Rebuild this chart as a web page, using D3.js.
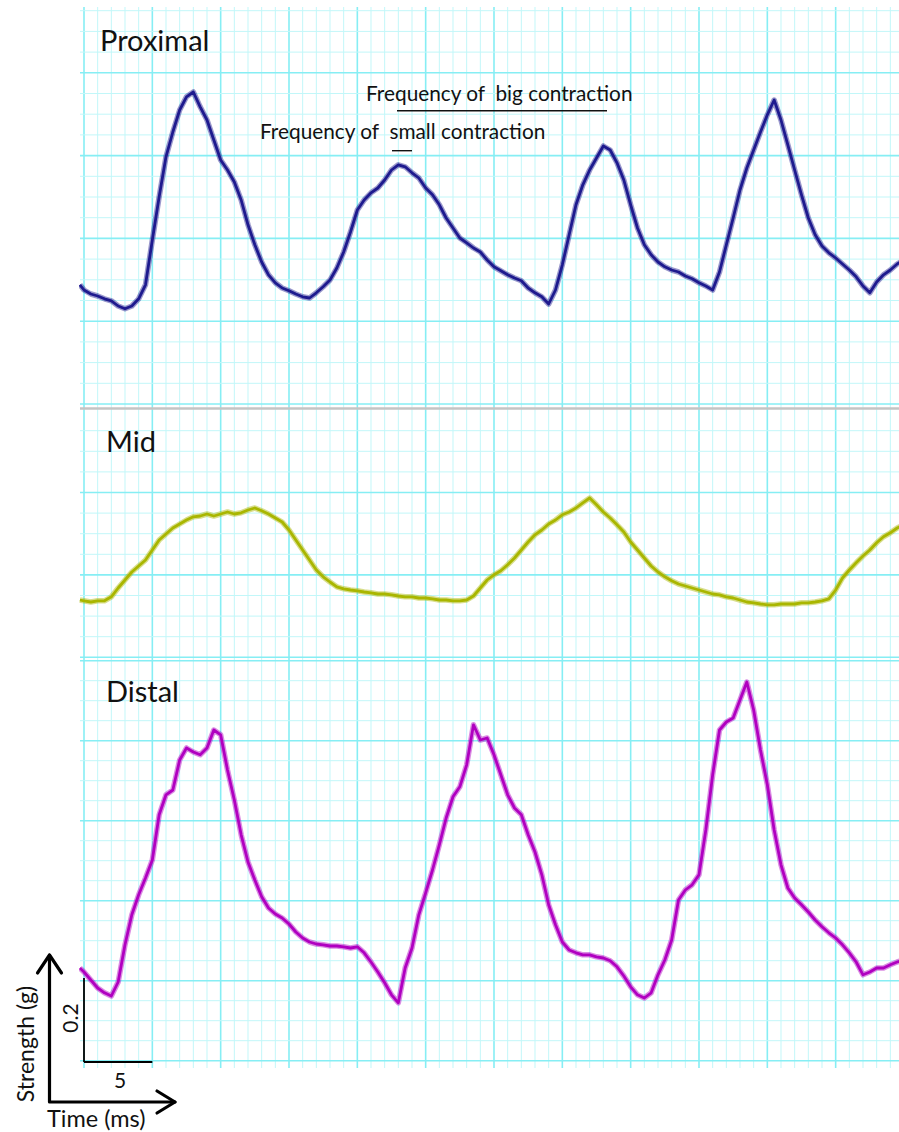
<!DOCTYPE html>
<html><head><meta charset="utf-8">
<script src="https://cdn.jsdelivr.net/npm/d3@7"></script>
<style>body{margin:0;background:#fff}svg{display:block}text{font-family:Lato,"Open Sans",sans-serif}</style>
</head><body><svg id="c" width="899" height="1132"></svg>
<script>
// time axis in ms (sampling of the traces)
const times = [-0.3].concat(d3.range(0, 60.001, 0.5));
// strength (g), relative to each panel baseline
const proximal = [0.308,
 0.295,0.285,0.280,0.273,0.268,0.255,0.248,0.255,0.273,0.308,
 0.420,0.528,0.628,0.690,0.745,0.778,0.790,0.753,0.720,0.670,
 0.620,0.595,0.565,0.520,0.458,0.408,0.365,0.333,0.313,0.300,
 0.293,0.285,0.278,0.275,0.288,0.303,0.320,0.350,0.390,0.440,
 0.495,0.520,0.538,0.550,0.570,0.595,0.608,0.603,0.588,0.575,
 0.550,0.533,0.508,0.475,0.450,0.425,0.413,0.400,0.390,0.370,
 0.353,0.343,0.333,0.325,0.318,0.300,0.288,0.278,0.260,0.295,
 0.358,0.433,0.508,0.558,0.595,0.625,0.655,0.645,0.613,0.570,
 0.508,0.450,0.408,0.383,0.365,0.353,0.345,0.340,0.330,0.323,
 0.313,0.305,0.295,0.340,0.408,0.475,0.545,0.600,0.645,0.690,
 0.733,0.770,0.720,0.658,0.595,0.533,0.475,0.433,0.405,0.388,
 0.375,0.360,0.345,0.328,0.305,0.288,0.315,0.333,0.345,0.360,
 0.370];
const mid = [0.150,
 0.148,0.145,0.148,0.148,0.158,0.180,0.200,0.220,0.235,0.250,
 0.275,0.300,0.315,0.330,0.340,0.350,0.358,0.360,0.365,0.360,
 0.365,0.370,0.365,0.368,0.375,0.380,0.373,0.365,0.355,0.345,
 0.325,0.300,0.275,0.250,0.225,0.208,0.195,0.183,0.178,0.175,
 0.173,0.170,0.168,0.165,0.165,0.163,0.160,0.158,0.158,0.155,
 0.155,0.153,0.150,0.150,0.148,0.148,0.150,0.160,0.180,0.200,
 0.213,0.223,0.238,0.255,0.275,0.295,0.313,0.325,0.340,0.350,
 0.363,0.370,0.380,0.393,0.405,0.388,0.370,0.355,0.338,0.320,
 0.295,0.275,0.255,0.235,0.220,0.208,0.198,0.190,0.185,0.180,
 0.175,0.170,0.165,0.163,0.158,0.155,0.150,0.145,0.143,0.140,
 0.138,0.138,0.140,0.140,0.140,0.143,0.143,0.145,0.148,0.153,
 0.175,0.205,0.225,0.243,0.260,0.275,0.293,0.308,0.318,0.330,
 0.338];
const distal = [0.235,
 0.225,0.205,0.185,0.173,0.165,0.200,0.293,0.368,0.418,0.460,
 0.505,0.618,0.668,0.680,0.755,0.785,0.775,0.768,0.785,0.830,
 0.818,0.730,0.655,0.568,0.500,0.455,0.413,0.385,0.370,0.360,
 0.345,0.325,0.310,0.300,0.295,0.293,0.290,0.290,0.288,0.285,
 0.288,0.273,0.250,0.225,0.198,0.168,0.148,0.235,0.285,0.368,
 0.423,0.480,0.543,0.610,0.663,0.688,0.743,0.843,0.805,0.810,
 0.768,0.718,0.668,0.635,0.618,0.568,0.525,0.468,0.393,0.343,
 0.300,0.280,0.273,0.268,0.268,0.263,0.260,0.253,0.238,0.215,
 0.188,0.168,0.160,0.173,0.218,0.255,0.305,0.405,0.430,0.443,
 0.468,0.580,0.718,0.830,0.850,0.860,0.905,0.950,0.880,0.780,
 0.693,0.580,0.493,0.435,0.410,0.393,0.375,0.355,0.338,0.323,
 0.310,0.293,0.273,0.250,0.218,0.225,0.235,0.235,0.243,0.250,
 0.255];
const panelNames = ["Proximal", "Mid", "Distal"];
const seriesColors = ["#1e1a8e", "#a9b600", "#b000c0"];
const annotationTexts = ["Frequency of  big contraction", "Frequency of  small contraction"];
const scaleBarTime = 5;        // ms
const scaleBarStrength = 0.2;  // g
const axisLabels = ["Strength (g)", "Time (ms)"];

const svg = d3.select("#c");
const W = 899;
const x = d3.scaleLinear().domain([0, 60]).range([84, 84 + 60 * 68.333 / 5]);

const panels = [
  {name: panelNames[0], data: proximal, color: seriesColors[0], y: d3.scaleLinear().domain([0,1]).range([408, 8]),
   top: 7, bottom: 408, gy0: 10.7, gstep: 20.7, gn: 20, gmaj: 3, labelY: 51, labelX: 100},
  {name: panelNames[1], data: mid, color: seriesColors[1], y: d3.scaleLinear().domain([0,1]).range([660, 260]),
   top: 408, bottom: 660, gy0: 430.7, gstep: 20.6, gn: 12, gmaj: 3, labelY: 452, labelX: 106},
  {name: panelNames[2], data: distal, color: seriesColors[2], y: d3.scaleLinear().domain([0,1]).range([1062, 662]),
   top: 660, bottom: 1068, gy0: 660.7, gstep: 20, gn: 21, gmaj: 0, labelY: 702, labelX: 106}
];

const gGrid = svg.append("g");
const minorC = "#c2f7f9", majorC = "#86eef4";
const vTicks = d3.range(0, 60, 1).filter(t => x(t) <= W);
gGrid.selectAll("line.v").data(vTicks).join("line")
  .attr("x1", d => x(d)).attr("x2", d => x(d))
  .attr("y1", 7).attr("y2", 1068)
  .attr("stroke", d => d % 5 === 0 ? majorC : minorC)
  .attr("stroke-width", d => d % 5 === 0 ? 1.6 : 1);
panels.forEach(p => {
  const ks = d3.range(p.gn);
  gGrid.selectAll(null).data(ks).join("line")
    .attr("x1", 80).attr("x2", W)
    .attr("y1", k => p.gy0 + k * p.gstep).attr("y2", k => p.gy0 + k * p.gstep)
    .attr("stroke", k => (k % 4 === p.gmaj) ? majorC : minorC)
    .attr("stroke-width", k => (k % 4 === p.gmaj) ? 1.6 : 1);
});
svg.append("line").attr("x1", 80).attr("x2", W).attr("y1", 408.5).attr("y2", 408.5)
  .attr("stroke", "#c4c4c4").attr("stroke-width", 2.5);

// traces: a narrow soft band for the signal noise plus the core trace
const defs = svg.append("defs");
panels.forEach((p, i) => {
  defs.append("clipPath").attr("id", "clip" + i).append("rect")
    .attr("x", 79).attr("y", p.top).attr("width", W - 79).attr("height", p.bottom - p.top);
  const line = d3.line().x((d, j) => x(times[j])).y(d => p.y(d));
  const g = svg.append("g").attr("clip-path", `url(#clip${i})`);
  g.append("path").datum(p.data)
    .attr("fill", "none").attr("stroke", p.color).attr("stroke-opacity", 0.45)
    .attr("stroke-width", 5.5).attr("stroke-linejoin", "round")
    .attr("d", line);
  g.append("path").datum(p.data)
    .attr("fill", "none").attr("stroke", p.color)
    .attr("stroke-width", 2.8).attr("stroke-linejoin", "round")
    .attr("d", line);
  svg.append("text").attr("x", p.labelX).attr("y", p.labelY)
    .attr("font-size", 29).attr("fill", "#111").text(p.name);
});

// annotations
const ann = svg.append("g").attr("fill", "#111");
ann.append("text").attr("x", 366).attr("y", 101).attr("font-size", 20.8)
  .style("white-space", "pre").text(annotationTexts[0]);
ann.append("text").attr("x", 260).attr("y", 139).attr("font-size", 20.8)
  .style("white-space", "pre").text(annotationTexts[1]);
ann.append("line").attr("x1", 397).attr("x2", 607).attr("y1", 110.7).attr("y2", 110.7)
  .attr("stroke", "#111").attr("stroke-width", 1.4);
ann.append("line").attr("x1", 392).attr("x2", 412).attr("y1", 150.7).attr("y2", 150.7)
  .attr("stroke", "#111").attr("stroke-width", 1.4);

// scale bar
const yC = panels[2].y;
const sb = svg.append("g").attr("stroke", "#000").attr("stroke-width", 1.8);
sb.append("line").attr("x1", x(0)).attr("x2", x(0)).attr("y1", yC(0)).attr("y2", yC(scaleBarStrength) - 4);
sb.append("line").attr("x1", x(0)).attr("x2", x(scaleBarTime)).attr("y1", yC(0)).attr("y2", yC(0));
svg.append("text").attr("transform", `translate(78,${(yC(0) + yC(scaleBarStrength)) / 2 - 4}) rotate(-90)`)
  .attr("text-anchor", "middle").attr("font-size", 21).attr("fill", "#111").text(String(scaleBarStrength));
svg.append("text").attr("x", (x(0) + x(scaleBarTime)) / 2 + 2).attr("y", 1088)
  .attr("text-anchor", "middle").attr("font-size", 21).attr("fill", "#111").text(String(scaleBarTime));

// big axes arrows
const ax = svg.append("g").attr("stroke", "#000").attr("stroke-width", 3.2).attr("fill", "none")
  .attr("stroke-linecap", "round").attr("stroke-linejoin", "round");
ax.append("path").attr("d", "M49.5,955 L49.5,1102 L175,1102");
ax.append("path").attr("d", "M37.5,973 L49.5,955 L61.5,973");
ax.append("path").attr("d", "M157,1091 L175,1102 L157,1113");
svg.append("text").attr("transform", "translate(34,1044) rotate(-90)")
  .attr("text-anchor", "middle").attr("font-size", 23).attr("fill", "#111").text(axisLabels[0]);
svg.append("text").attr("x", 47).attr("y", 1127)
  .attr("font-size", 23.5).attr("fill", "#111").text(axisLabels[1]);
</script></body></html>
